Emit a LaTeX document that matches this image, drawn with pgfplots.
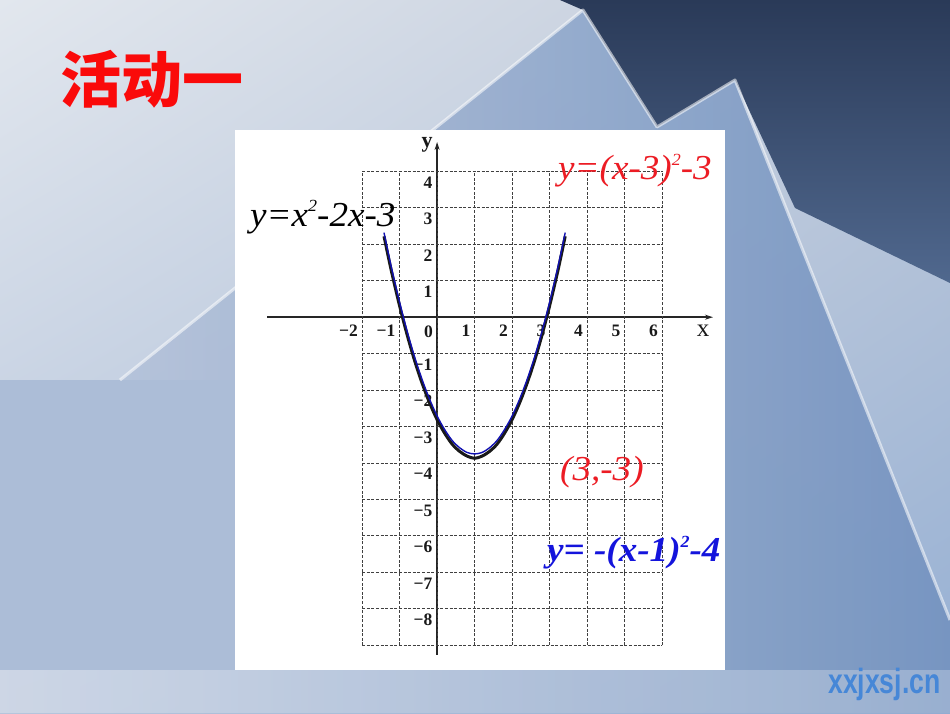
\documentclass[border=0pt]{standalone}
\usepackage{pgfplots}
\pgfplotsset{compat=1.18}
\usetikzlibrary{arrows.meta,shadings}
\usepackage{fontspec}
\setmainfont{Liberation Serif}
\newfontfamily\cjk{Noto Sans CJK SC}
\newfontfamily\wmfont{Liberation Sans}
\definecolor{titlered}{RGB}{250,10,10}
\definecolor{fred}{RGB}{236,28,36}
\definecolor{fblue}{RGB}{20,20,220}
\definecolor{wmblue}{RGB}{70,135,215}
\definecolor{bgdark}{RGB}{42,58,88}
\definecolor{bgdark2}{RGB}{80,104,142}
\definecolor{mtleft}{RGB}{190,202,222}
\definecolor{mtright}{RGB}{118,148,192}
\definecolor{lowleft}{RGB}{172,189,215}
\newcommand\ticks{\fontsize{17.5}{17.5}\selectfont\bfseries}
\newcommand\fsz{\fontsize{35}{35}\selectfont}
\newcommand\sq{\raisebox{0.42em}{\fontsize{17}{17}\selectfont 2}}
\begin{document}
\begin{tikzpicture}[x=1pt,y=1pt]
\useasboundingbox (0,0) rectangle (950,713);
% ---------- background ----------
\begin{scope}
\clip (0,0) rectangle (950,713);
\shade[upper left={rgb,255:red,226;green,231;blue,238},
       upper right={rgb,255:red,192;green,202;blue,218},
       lower left={rgb,255:red,182;green,197;blue,220},
       lower right={rgb,255:red,150;green,176;blue,212}] (0,0) rectangle (950,713);
\shade[left color=mtleft,right color=mtright,opacity=0.95]
  (120,333) -- (583,703) -- (657,586) -- (735,633) -- (950,93) -- (950,0) -- (0,0) -- (0,233) -- cycle;
\shade[top color=bgdark,bottom color=bgdark2]
  (560,713) -- (583,703) -- (657,586) -- (735,633) -- (795,505) -- (950,430) -- (950,713) -- cycle;
\fill[lowleft] (0,43) rectangle (235,333);
\draw[white,opacity=0.55,line width=3pt,line join=round]
  (120,333) -- (583,703) -- (657,586) -- (735,633) -- (950,93);
\fill[white,opacity=0.25] (0,0) rectangle (950,43);
\end{scope}
% ---------- title ----------
\node[anchor=base west,inner sep=0pt,text=titlered] at (60,610.5)
  {\cjk\bfseries\fontsize{61}{61}\selectfont 活动一};
% ---------- watermark ----------
\node[anchor=base west,inner sep=0pt,text=wmblue] at (828,19.7)
  {\scalebox{0.76}[1]{\wmfont\bfseries\fontsize{35}{35}\selectfont xxjxsj.cn}};
% ---------- white panel ----------
\fill[white] (235,43) rectangle (725,583);
% ---------- graph ----------
\begin{axis}[
  anchor=origin, at={(437.1pt,395.8pt)},
  x=37.5pt, y=36.46pt,
  xmin=-4.536, xmax=7.357, ymin=-9.265, ymax=4.805,
  axis lines=middle,
  axis line style={line width=1.5pt, black!85, -{Stealth[length=8pt,width=5pt]}},
  hide obscured x ticks=false,
  hide obscured y ticks=false,
  xtick={-2,-1,0,1,2,3,4,5,6},
  xticklabels={−2,−1,0,1,2,3,4,5,6},
  ytick={-8,-7,-6,-5,-4,-3,-2,-1,1,2,3,4},
  yticklabels={−8,−7,−6,−5,−4,−3,−2,−1,1,2,3,4},
  major tick length=0pt,
  xticklabel style={anchor=north east, inner sep=0pt, xshift=-4pt, yshift=-8pt, font=\ticks, text=black!90},
  yticklabel style={anchor=north east, inner sep=0pt, xshift=-4.5pt, yshift=-5pt, font=\ticks, text=black!90},
  clip=false,
]
\pgfplotsinvokeforeach{-2,-1,0,1,2,3,4,5,6}{
  \draw[black!75,line width=1pt,dash pattern=on 3pt off 1.6pt] (axis cs:#1,-9) -- (axis cs:#1,4);
}
\pgfplotsinvokeforeach{-9,-8,-7,-6,-5,-4,-3,-2,-1,1,2,3,4}{
  \draw[black!75,line width=1pt,dash pattern=on 3pt off 1.6pt] (axis cs:-2,#1) -- (axis cs:6,#1);
}
\addplot[black!90,line width=3pt,smooth] coordinates {
(-1.416,2.22) (-1.3,1.65) (-1.2,1.18) (-1.0,0.31) (-0.8,-0.48) (-0.6,-1.19)
(-0.4,-1.81) (-0.2,-2.35) (0,-2.81) (0.2,-3.18) (0.4,-3.48) (0.6,-3.68)
(0.8,-3.81) (1,-3.87) (1.2,-3.81) (1.4,-3.68) (1.6,-3.48) (1.8,-3.18)
(2,-2.81) (2.2,-2.35) (2.4,-1.81) (2.6,-1.19) (2.8,-0.48) (3,0.31)
(3.2,1.18) (3.3,1.65) (3.416,2.22)};
\addplot[fblue!80!black,line width=1.4pt,smooth] coordinates {
(-1.416,2.32) (-1.3,1.75) (-1.2,1.28) (-1.0,0.41) (-0.8,-0.38) (-0.6,-1.09)
(-0.4,-1.71) (-0.2,-2.25) (0,-2.71) (0.2,-3.08) (0.4,-3.38) (0.6,-3.58)
(0.8,-3.71) (1,-3.75) (1.2,-3.71) (1.4,-3.58) (1.6,-3.38) (1.8,-3.08)
(2,-2.71) (2.2,-2.25) (2.4,-1.71) (2.6,-1.09) (2.8,-0.38) (3,0.41)
(3.2,1.28) (3.3,1.75) (3.416,2.32)};
\end{axis}
\node[inner sep=0pt,font=\fontsize{22}{22}\selectfont\bfseries,text=black!90] at (427,568) {y};
\node[inner sep=0pt,font=\fontsize{25}{25}\selectfont,text=black!90] at (703,382) {x};
% ---------- formulas ----------
\node[anchor=base west,inner sep=0pt] at (250,486.3)
  {\scalebox{1.06}[1]{\fsz\itshape y=x\sq-2x-3}};
\node[anchor=base west,inner sep=0pt,text=fred] at (558,533)
  {\scalebox{1.06}[1]{\fsz\itshape y=(x-3)\sq-3}};
\node[anchor=base west,inner sep=0pt,text=fred] at (560,233)
  {\scalebox{1.06}[1]{\fsz\itshape (3,-3)}};
\node[anchor=base west,inner sep=0pt,text=fblue] at (547,151.3)
  {\scalebox{1.06}[1]{\fsz\bfseries\itshape y= -(x-1)\sq-4}};
\end{tikzpicture}
\end{document}
